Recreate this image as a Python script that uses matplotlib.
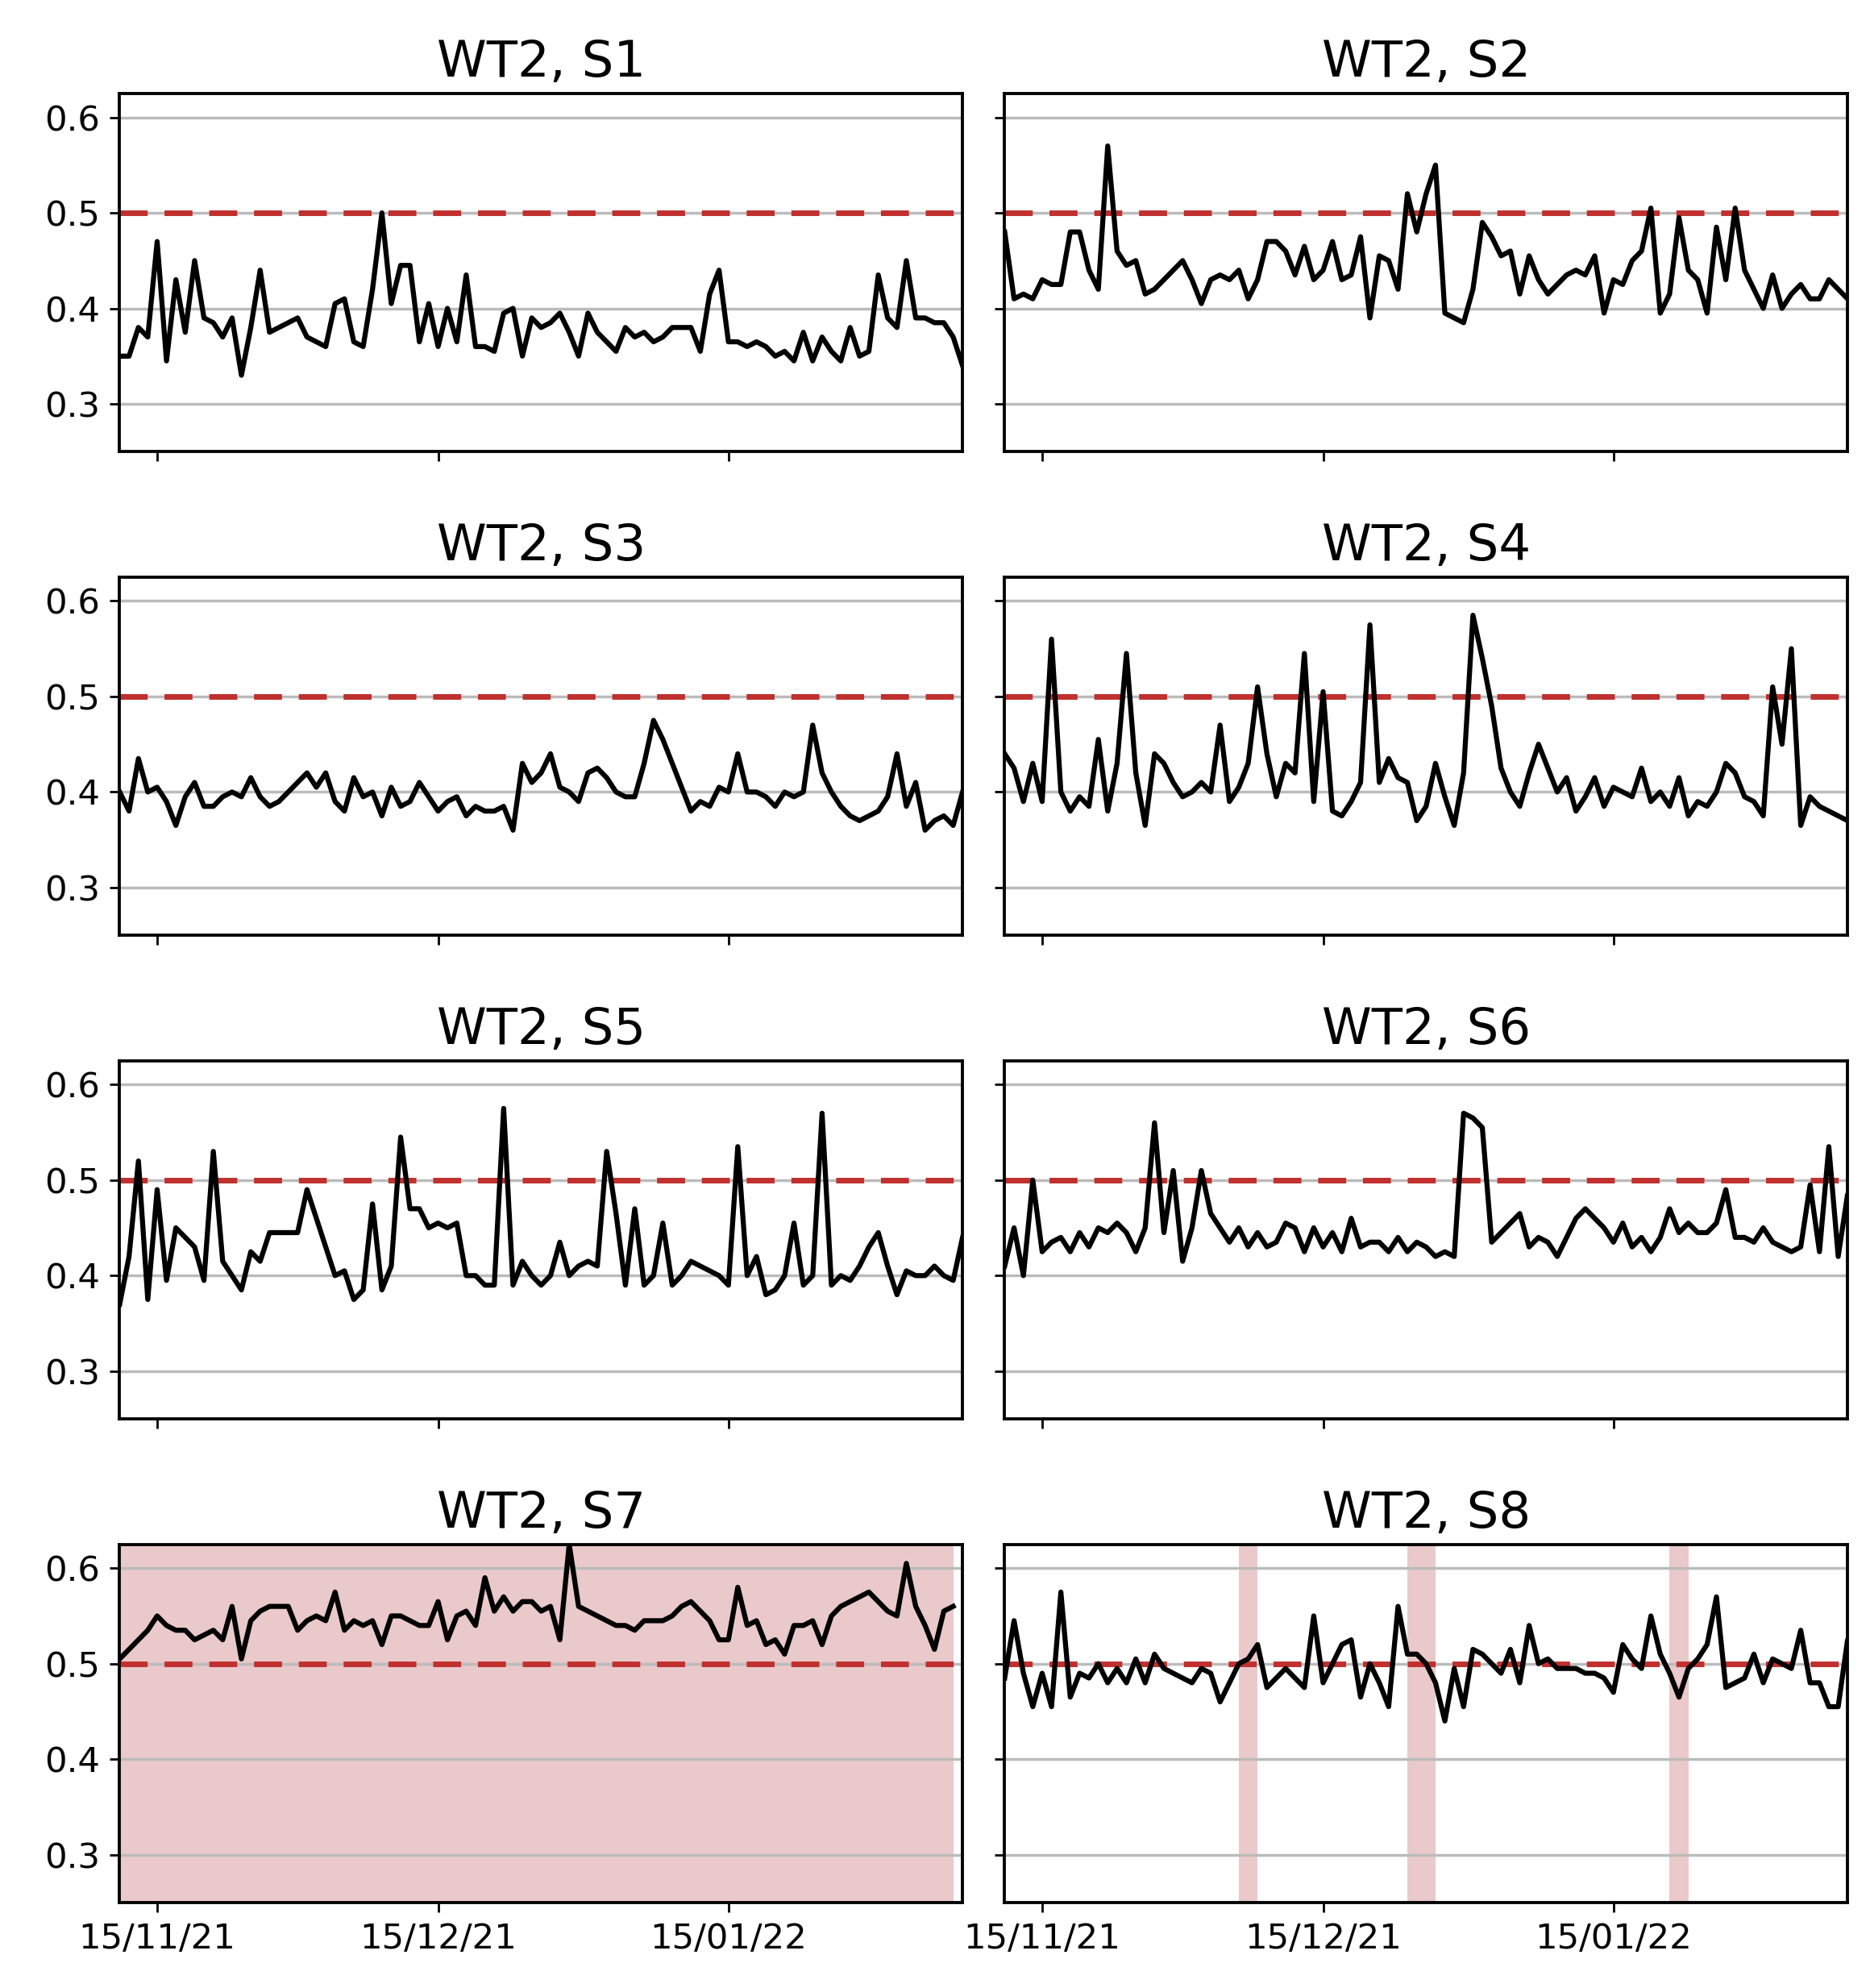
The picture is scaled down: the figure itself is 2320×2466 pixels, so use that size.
import matplotlib
matplotlib.use("Agg")
import matplotlib.pyplot as plt
import matplotlib.dates as mdates
import pandas as pd

titles = ["WT2, S1", "WT2, S2", "WT2, S3", "WT2, S4", "WT2, S5", "WT2, S6", "WT2, S7", "WT2, S8"]
start_date = "2021-11-11"

s1 = [.35,.35,.38,.37,.47,.345,.43,.375,.45,.39,.385,.37,.39,.33,.38,.44,.375,.38,.385,.39,.37,.365,.36,.405,.41,.365,.36,.42,.50,.405,.445,.445,.365,.405,.36,.40,.365,.435,.36,.36,.355,.395,.40,.35,.39,.38,.385,.395,.375,.35,.395,.375,.365,.355,.38,.37,.375,.365,.37,.38,.38,.38,.355,.415,.44,.365,.365,.36,.365,.36,.35,.355,.345,.375,.345,.37,.355,.345,.38,.35,.355,.435,.39,.38,.45,.39,.39,.385,.385,.37,.34]
s2 = [.48,.41,.415,.41,.43,.425,.425,.48,.48,.44,.42,.57,.46,.445,.45,.415,.42,.43,.44,.45,.43,.405,.43,.435,.43,.44,.41,.43,.47,.47,.46,.435,.465,.43,.44,.47,.43,.435,.475,.39,.455,.45,.42,.52,.48,.52,.55,.395,.39,.385,.42,.49,.475,.455,.46,.415,.455,.43,.415,.425,.435,.44,.435,.455,.395,.43,.425,.45,.46,.505,.395,.415,.495,.44,.43,.395,.485,.43,.505,.44,.42,.40,.435,.40,.415,.425,.41,.41,.43,.42,.41]
s3 = [.40,.38,.435,.40,.405,.39,.365,.395,.41,.385,.385,.395,.40,.395,.415,.395,.385,.39,.40,.41,.42,.405,.42,.39,.38,.415,.395,.40,.375,.405,.385,.39,.41,.395,.38,.39,.395,.375,.385,.38,.38,.385,.36,.43,.41,.42,.44,.405,.40,.39,.42,.425,.415,.40,.395,.395,.43,.475,.455,.43,.405,.38,.39,.385,.405,.40,.44,.40,.40,.395,.385,.40,.395,.40,.47,.42,.40,.385,.375,.37,.375,.38,.395,.44,.385,.41,.36,.37,.375,.365,.40]
s4 = [.44,.425,.39,.43,.39,.56,.40,.38,.395,.385,.455,.38,.43,.545,.42,.365,.44,.43,.41,.395,.40,.41,.40,.47,.39,.405,.43,.51,.44,.395,.43,.42,.545,.39,.505,.38,.375,.39,.41,.575,.41,.435,.415,.41,.37,.385,.43,.395,.365,.42,.585,.54,.49,.425,.40,.385,.42,.45,.425,.40,.415,.38,.395,.415,.385,.405,.40,.395,.425,.39,.40,.385,.415,.375,.39,.385,.40,.43,.42,.395,.39,.375,.51,.45,.55,.365,.395,.385,.38,.375,.37]
s5 = [.37,.42,.52,.375,.49,.395,.45,.44,.43,.395,.53,.415,.40,.385,.425,.415,.445,.445,.445,.445,.49,.46,.43,.40,.405,.375,.385,.475,.385,.41,.545,.47,.47,.45,.455,.45,.455,.40,.40,.39,.39,.575,.39,.415,.40,.39,.40,.435,.40,.41,.415,.41,.53,.465,.39,.47,.39,.40,.455,.39,.40,.415,.41,.405,.40,.39,.535,.40,.42,.38,.385,.40,.455,.39,.40,.57,.39,.40,.395,.41,.43,.445,.41,.38,.405,.40,.40,.41,.40,.395,.44]
s6 = [.41,.45,.40,.50,.425,.435,.44,.425,.445,.43,.45,.445,.455,.445,.425,.45,.56,.445,.51,.415,.45,.51,.465,.45,.435,.45,.43,.445,.43,.435,.455,.45,.425,.45,.43,.445,.425,.46,.43,.435,.435,.425,.44,.425,.435,.43,.42,.425,.42,.57,.565,.555,.435,.445,.455,.465,.43,.44,.435,.42,.44,.46,.47,.46,.45,.435,.455,.43,.44,.425,.44,.47,.445,.455,.445,.445,.455,.49,.44,.44,.435,.45,.435,.43,.425,.43,.495,.425,.535,.42,.485,.425,.43,.43,.42]
s7 = [.505,.515,.525,.535,.55,.54,.535,.535,.525,.53,.535,.525,.56,.505,.545,.555,.56,.56,.56,.535,.545,.55,.545,.575,.535,.545,.54,.545,.52,.55,.55,.545,.54,.54,.565,.525,.55,.555,.54,.59,.555,.57,.555,.565,.565,.555,.56,.525,.625,.56,.555,.55,.545,.54,.54,.535,.545,.545,.545,.55,.56,.565,.555,.545,.525,.525,.58,.54,.545,.52,.525,.51,.54,.54,.545,.52,.55,.56,.565,.57,.575,.565,.555,.55,.605,.56,.54,.515,.555,.56]
s8 = [.485,.545,.49,.455,.49,.455,.575,.465,.49,.485,.5,.48,.495,.48,.505,.48,.51,.495,.49,.485,.48,.495,.49,.46,.48,.5,.505,.52,.475,.485,.495,.485,.475,.55,.48,.5,.52,.525,.465,.50,.48,.455,.56,.51,.51,.5,.48,.44,.495,.455,.515,.51,.5,.49,.515,.48,.54,.5,.505,.495,.495,.495,.49,.49,.485,.47,.52,.505,.495,.55,.51,.49,.465,.495,.505,.52,.57,.475,.48,.485,.51,.48,.505,.5,.495,.535,.48,.48,.455,.455,.525,.49]
series = [s1, s2, s3, s4, s5, s6, s7, s8]

shade_s7 = [("2021-11-11", "2022-02-08")]
shade_s8 = [("2021-12-06", "2021-12-08"), ("2021-12-24", "2021-12-27"), ("2022-01-21", "2022-01-23")]
shades = {6: shade_s7, 7: shade_s8}
threshold = 0.5
yticks = [0.3, 0.4, 0.5, 0.6]

fig, axes = plt.subplots(4, 2, figsize=(9.28, 9.864), dpi=250, sharex=True, sharey=True)
fig.subplots_adjust(left=0.064, right=0.988, top=0.953, bottom=0.043, hspace=0.35, wspace=0.05)
for i, ax in enumerate(axes.flat):
    d = pd.date_range(start_date, periods=len(series[i]), freq="D")
    for a, b in shades.get(i, []):
        ax.axvspan(pd.Timestamp(a), pd.Timestamp(b), color="#e8c4c6", alpha=0.9, lw=0)
    for y in yticks:
        ax.axhline(y, color="#bbbbbb", lw=1, zorder=1)
    ax.axhline(threshold, color="#c0302e", lw=2, ls=(0, (5, 3)), zorder=2)
    ax.plot(d, series[i], color="black", lw=1.8, zorder=3)
    ax.set_title(titles[i], fontsize=18)
    ax.set_ylim(0.25, 0.625)
    ax.set_yticks(yticks)
    ax.set_xlim(pd.Timestamp("2021-11-11"), pd.Timestamp("2022-02-09"))
    ax.set_xticks([pd.Timestamp("2021-11-15"), pd.Timestamp("2021-12-15"), pd.Timestamp("2022-01-15")])
    ax.xaxis.set_major_formatter(mdates.DateFormatter("%d/%m/%y"))
    ax.tick_params(labelsize=12.5)
    ax.tick_params(axis="y", labelleft=(i % 2 == 0))
    for sp in ax.spines.values():
        sp.set_linewidth(1.1)
plt.savefig("out.png")
